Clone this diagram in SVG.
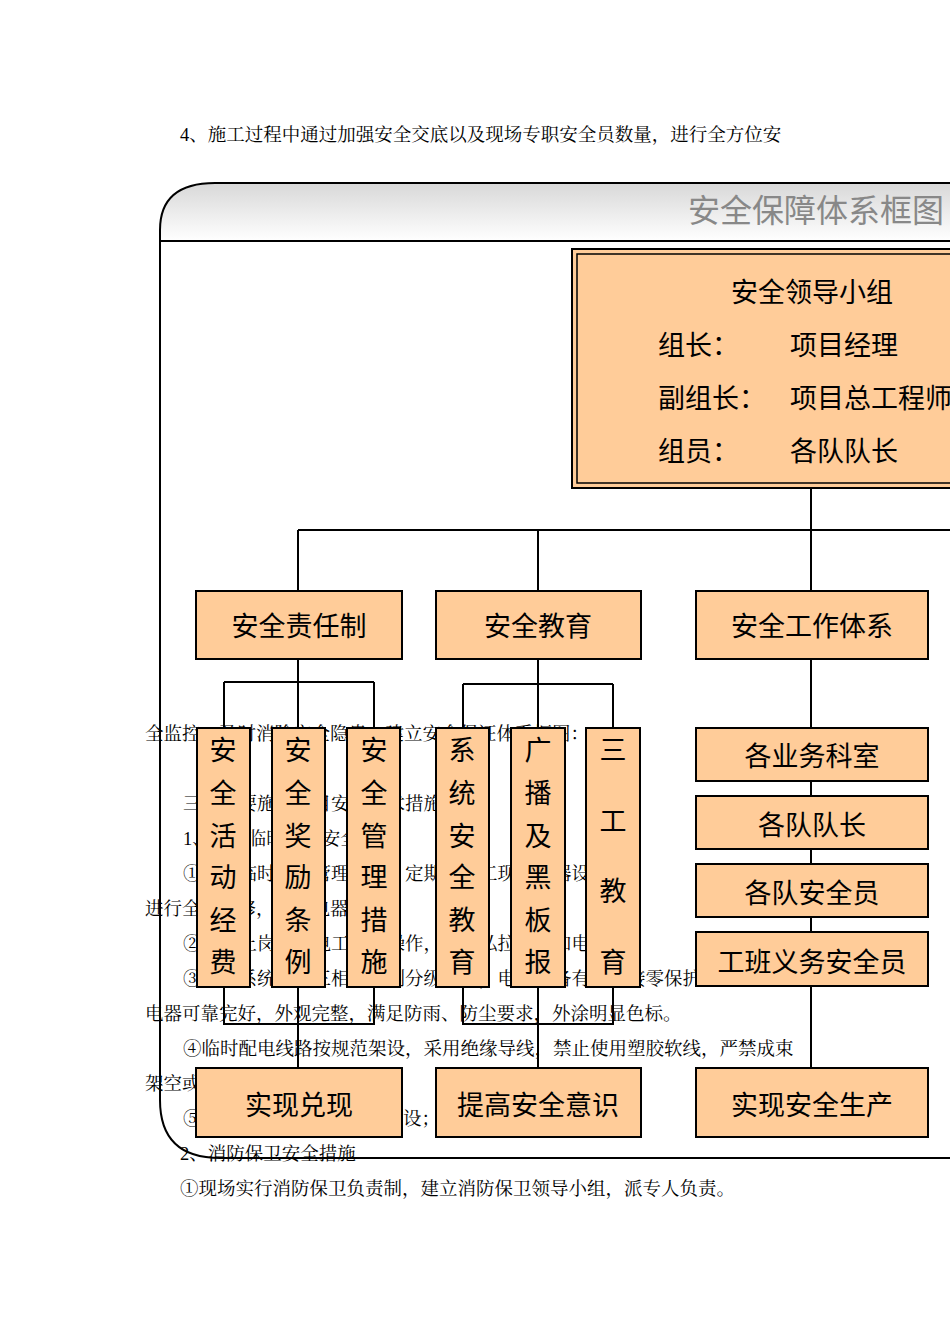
<svg xmlns="http://www.w3.org/2000/svg" width="950" height="1344" viewBox="0 0 950 1344">
<style>
.b{font-family:"Liberation Serif","Noto Serif CJK SC","Noto Sans CJK SC",serif;font-size:18.5px;fill:#000}
.n{fill:#ffcc99;stroke:#000;stroke-width:2}
.t{font-family:"Noto Sans CJK SC",sans-serif;font-size:27px;fill:#000;text-anchor:middle}
.c{fill:none;stroke:#000;stroke-width:2}
</style>
<defs><linearGradient id="g" x1="0" y1="0" x2="0" y2="1"><stop offset="0" stop-color="#d8d8d8"/><stop offset="1" stop-color="#ffffff"/></linearGradient></defs>
<rect width="950" height="1344" fill="#fff"/>
<g id="body">
<text class="b" x="180" y="141">4、施工过程中通过加强安全交底以及现场专职安全员数量，进行全方位安</text>
<text class="b" x="145" y="740">全监控，及时消除安全隐患。建立安全保证体系框图：</text>
<text class="b" x="183" y="810">三、主要施工项目安全技术措施</text>
<text class="b" x="183" y="845">1、施工临时用电安全措施</text>
<text class="b" x="183" y="880">①建全临时用电管理制度，定期对施工现场电器设</text>
<text class="b" x="145" y="915">进行全面检修，使用电器</text>
<text class="b" x="183" y="950">②持证上岗，非电工不得操作，严禁私拉线路和电器。</text>
<text class="b" x="183" y="985">③配电系统实行三相五线制分级配电，电器设备有可靠接零保护</text>
<text class="b" x="145" y="1020">电器可靠完好，外观完整，满足防雨、防尘要求，外涂明显色标。</text>
<text class="b" x="183" y="1055">④临时配电线路按规范架设，采用绝缘导线，禁止使用塑胶软线，严禁成束</text>
<text class="b" x="145" y="1090">架空或</text>
<text class="b" x="183" y="1125">⑤</text><text class="b" x="403" y="1125">设；</text>
<text class="b" x="180" y="1160">2、消防保卫安全措施</text>
<text class="b" x="180" y="1195">①现场实行消防保卫负责制，建立消防保卫领导小组，派专人负责。</text>
</g>
<g id="frame">
<path d="M160 241 L160 230 Q160 183 215 183 L960 183 L960 241 Z" fill="url(#g)" stroke="#000" stroke-width="2"/>
<path d="M160 241 L160 1100 Q160 1158 220 1158 L960 1158" fill="none" stroke="#000" stroke-width="2"/>
<text x="688" y="222" font-family="Noto Sans CJK SC,sans-serif" font-size="32" fill="#888">安全保障体系框图</text>
</g>
<g id="connectors">
<path class="c" d="M811 488V530M298 530H960M298 530V591M538 530V591M811 530V591"/>
<path class="c" d="M298 659V682M224 682H374M224 682V728M298 682V728M374 682V728"/>
<path class="c" d="M538 659V684M463 684H613M463 684V728M538 684V728M613 684V728"/>
<path class="c" d="M224 987V1024H374V987M298 987V1068"/>
<path class="c" d="M463 987V1024H613V987M538 987V1068"/>
<path class="c" d="M811 659V728M811 781V796M811 849V864M811 917V932M811 986V1068"/>
</g>
<g id="leader">
<rect x="572" y="249" width="400" height="239" fill="#ffcc99" stroke="#000" stroke-width="2"/>
<rect x="577" y="254" width="390" height="229" fill="none" stroke="#000" stroke-width="1.5"/>
<text class="t" x="812" y="302" font-size="34">安全领导小组</text>
<text class="t" x="658" y="355" style="text-anchor:start">组长：</text><text class="t" x="790" y="355" style="text-anchor:start">项目经理</text>
<text class="t" x="658" y="408" style="text-anchor:start">副组长：</text><text class="t" x="790" y="408" style="text-anchor:start">项目总工程师</text>
<text class="t" x="658" y="461" style="text-anchor:start">组员：</text><text class="t" x="790" y="461" style="text-anchor:start">各队队长</text>
</g>
<g id="n1"><rect class="n" x="196" y="591" width="206" height="68"/><text class="t" x="299" y="636">安全责任制</text></g>
<g id="n2"><rect class="n" x="436" y="591" width="205" height="68"/><text class="t" x="538" y="636">安全教育</text></g>
<g id="n3"><rect class="n" x="696" y="591" width="232" height="68"/><text class="t" x="812" y="636">安全工作体系</text></g>
<g id="v1"><rect class="n" x="197" y="728" width="53" height="259"/><text class="t" x="223" y="760">安</text><text class="t" x="223" y="803">全</text><text class="t" x="223" y="846">活</text><text class="t" x="223" y="887">动</text><text class="t" x="223" y="930">经</text><text class="t" x="223" y="972">费</text></g>
<g id="v2"><rect class="n" x="272" y="728" width="53" height="259"/><text class="t" x="298" y="760">安</text><text class="t" x="298" y="803">全</text><text class="t" x="298" y="846">奖</text><text class="t" x="298" y="887">励</text><text class="t" x="298" y="930">条</text><text class="t" x="298" y="972">例</text></g>
<g id="v3"><rect class="n" x="347" y="728" width="53" height="259"/><text class="t" x="374" y="760">安</text><text class="t" x="374" y="803">全</text><text class="t" x="374" y="846">管</text><text class="t" x="374" y="887">理</text><text class="t" x="374" y="930">措</text><text class="t" x="374" y="972">施</text></g>
<g id="v4"><rect class="n" x="436" y="728" width="53" height="259"/><text class="t" x="462" y="760">系</text><text class="t" x="462" y="803">统</text><text class="t" x="462" y="846">安</text><text class="t" x="462" y="887">全</text><text class="t" x="462" y="930">教</text><text class="t" x="462" y="972">育</text></g>
<g id="v5"><rect class="n" x="511" y="728" width="54" height="259"/><text class="t" x="538" y="760">广</text><text class="t" x="538" y="803">播</text><text class="t" x="538" y="846">及</text><text class="t" x="538" y="887">黑</text><text class="t" x="538" y="930">板</text><text class="t" x="538" y="972">报</text></g>
<g id="v6"><rect class="n" x="586" y="728" width="54" height="259"/><text class="t" x="613" y="760">三</text><text class="t" x="613" y="831">工</text><text class="t" x="613" y="901">教</text><text class="t" x="613" y="972">育</text></g>
<g id="r1"><rect class="n" x="696" y="728" width="232" height="53"/><text class="t" x="812" y="766">各业务科室</text></g>
<g id="r2"><rect class="n" x="696" y="796" width="232" height="53"/><text class="t" x="812" y="835">各队队长</text></g>
<g id="r3"><rect class="n" x="696" y="864" width="232" height="53"/><text class="t" x="812" y="903">各队安全员</text></g>
<g id="r4"><rect class="n" x="696" y="932" width="232" height="54"/><text class="t" x="812" y="972">工班义务安全员</text></g>
<g id="b1"><rect class="n" x="196" y="1068" width="206" height="69"/><text class="t" x="299" y="1115">实现兑现</text></g>
<g id="b2"><rect class="n" x="436" y="1068" width="205" height="69"/><text class="t" x="538" y="1115">提高安全意识</text></g>
<g id="b3"><rect class="n" x="696" y="1068" width="232" height="69"/><text class="t" x="812" y="1115">实现安全生产</text></g>
</svg>
